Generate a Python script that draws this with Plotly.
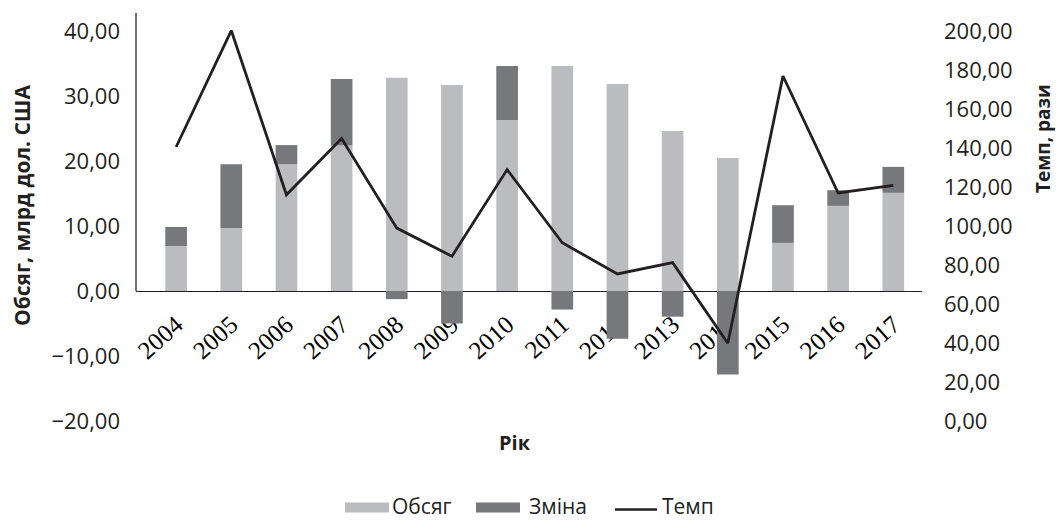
import plotly.graph_objects as go

# ---------------- data ----------------
years = ['2004', '2005', '2006', '2007', '2008', '2009', '2010',
         '2011', '2012', '2013', '2014', '2015', '2016', '2017']
obsyag = [6.9, 9.7, 19.5, 22.4, 32.8, 31.7, 26.3, 34.6, 31.85, 24.6, 20.45, 7.4, 13.1, 15.1]
zmina = [2.95, 9.8, 2.95, 10.2, -1.25, -5.0, 8.3, -2.85, -7.35, -3.95, -12.85, 5.8, 2.4, 4.0]
temp = [140.5, 200.2, 116.0, 144.8, 98.9, 84.5, 128.9, 91.4, 75.4, 81.2, 39.9, 176.9, 116.9, 120.8]

left_ticks = [-20, -10, 0, 10, 20, 30, 40]
right_ticks = [0, 20, 40, 60, 80, 100, 120, 140, 160, 180, 200]

series_names = ['Обсяг', 'Зміна', 'Темп']

# ---------------- style ----------------
W, H = 1057, 521
ML, MR, MT, MB = 136, 135, 13, 100
PW, PH = W - ML - MR, H - MT - MB
C_LIGHT = '#bbbcbf'
C_DARK = '#77787b'
C_LINE = '#231f20'
SANS = 'Open Sans'
SERIF = 'Liberation Serif'

y_range = [-20, 42.77]
y2_range = [0, 209.2]
x_range = [-0.727, 13.52]
zero_pos = (0 - y_range[0]) / (y_range[1] - y_range[0])


def fmt(v):
    s = f"{abs(v):.2f}".replace('.', ',')
    return ('\u2212' + s) if v < 0 else s


def px_x(p):
    return (p - ML) / PW


def px_y(p):
    return (MT + PH - p) / PH


fig = go.Figure()
fig.add_trace(go.Bar(x=years, y=obsyag, name=series_names[0], marker_color=C_LIGHT,
                     marker_line_width=0, showlegend=False))
fig.add_trace(go.Bar(x=years, y=zmina, name=series_names[1], marker_color=C_DARK,
                     marker_line_width=0, showlegend=False))
fig.add_trace(go.Scatter(x=years, y=temp, name=series_names[2], mode='lines',
                         line=dict(color=C_LINE, width=2.8), yaxis='y2', showlegend=False))

fig.update_layout(
    width=W, height=H, autosize=False,
    margin=dict(l=ML, r=MR, t=MT, b=MB, pad=0),
    paper_bgcolor='white', plot_bgcolor='white',
    barmode='relative', bargap=0.607,
    font=dict(family=SANS, color=C_LINE),
    xaxis=dict(type='category', range=x_range, anchor='free', position=zero_pos,
               showline=True, linecolor=C_LINE, linewidth=1.3, showgrid=False,
               zeroline=False, ticks='', tickangle=-42, layer='below traces',
               tickfont=dict(family=SERIF, size=25, color='#000000'),
               ticklabelstandoff=8),
    yaxis=dict(range=y_range, tickvals=left_ticks, ticktext=[fmt(v) for v in left_ticks],
               showline=False, showgrid=False, zeroline=False, ticks='',
               tickfont=dict(family=SANS, size=22, color=C_LINE), ticklabelstandoff=15),
    yaxis2=dict(range=y2_range, overlaying='y', side='right', tickvals=right_ticks,
                ticktext=[fmt(v) for v in right_ticks], showline=False, showgrid=False,
                zeroline=False, ticks='', tickfont=dict(family=SANS, size=22, color=C_LINE),
                ticklabelstandoff=21),
)

# partial left axis line (from zero up)
fig.add_shape(type='line', xref='paper', yref='paper', x0=0, x1=0, y0=zero_pos, y1=1,
              line=dict(color=C_LINE, width=1.3))

# axis titles
fig.add_annotation(text='<b>Обсяг, млрд дол. США</b>', textangle=-90, xref='paper', yref='paper',
                   x=px_x(22), y=px_y(206), xanchor='center', yanchor='middle', borderpad=0,
                   showarrow=False, font=dict(family=SANS, size=21, color=C_LINE))
fig.add_annotation(text='<b>Темп, рази</b>', textangle=-90, xref='paper', yref='paper',
                   x=px_x(1043), y=px_y(139), xanchor='center', yanchor='middle', borderpad=0,
                   showarrow=False, font=dict(family=SANS, size=19, color=C_LINE))
fig.add_annotation(text='<b>Рік</b>', xref='paper', yref='paper',
                   x=px_x(515), y=px_y(442), xanchor='center', yanchor='middle',
                   showarrow=False, font=dict(family=SANS, size=20, color=C_LINE))

# manual legend
leg_y = 507.5
leg_items = [(series_names[0], 'rect', C_LIGHT, 345, 389, 391),
             (series_names[1], 'rect', C_DARK, 476, 520, 528),
             (series_names[2], 'line', C_LINE, 615, 657, 661)]
for name, kind, col, x0, x1, tx in leg_items:
    if kind == 'rect':
        fig.add_shape(type='rect', xref='paper', yref='paper', x0=px_x(x0), x1=px_x(x1),
                      y0=px_y(leg_y + 5), y1=px_y(leg_y - 5), fillcolor=col, line_width=0)
    else:
        fig.add_shape(type='line', xref='paper', yref='paper', x0=px_x(x0), x1=px_x(x1),
                      y0=px_y(leg_y + 2), y1=px_y(leg_y + 2), line=dict(color=col, width=2.6))
    fig.add_annotation(text=name, xref='paper', yref='paper', x=px_x(tx), y=px_y(leg_y - 1.5),
                       xanchor='left', yanchor='middle', showarrow=False, borderpad=0,
                       font=dict(family=SANS, size=21, color=C_LINE))

fig.write_html('out.html')
